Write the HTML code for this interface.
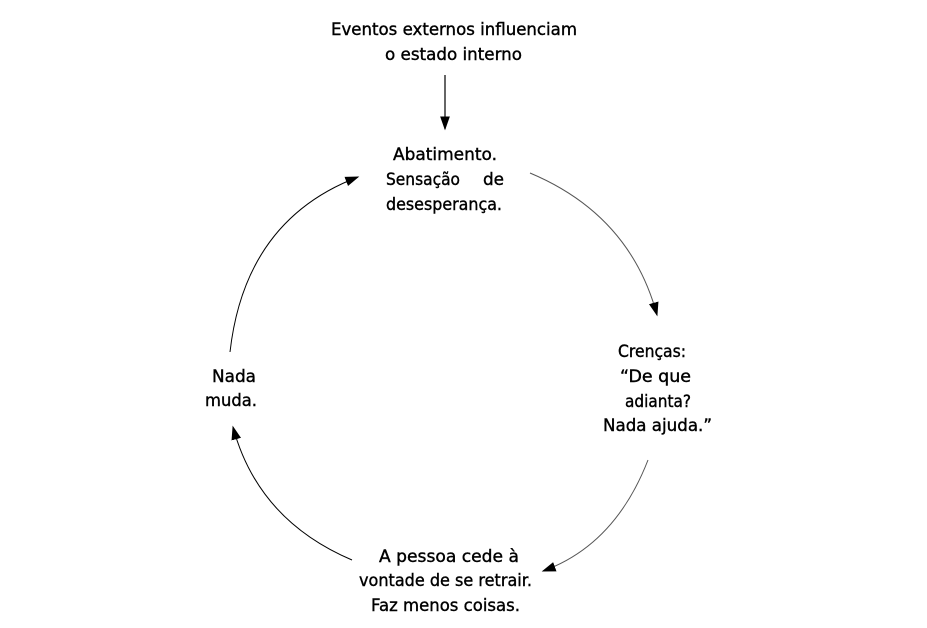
<!DOCTYPE html>
<html><head><style>html,body{margin:0;padding:0;background:#fff}svg{display:block}</style></head>
<body>
<svg width="927" height="628" viewBox="0 0 927 628" xmlns="http://www.w3.org/2000/svg" font-family="DejaVu Sans, Liberation Sans, sans-serif" font-size="17" fill="#000">
<defs>
<marker id="b" viewBox="0 0 10 10" refX="9" refY="5" markerWidth="14" markerHeight="14" markerUnits="userSpaceOnUse" orient="auto"><path d="M0,1.5 L10,5 L0,8.5 z" fill="#000"/></marker>
</defs>
<g stroke="#000" stroke-width="0.4">
<text x="331" y="35" textLength="246" lengthAdjust="spacingAndGlyphs">Eventos externos influenciam</text>
<text x="385" y="60" textLength="137" lengthAdjust="spacingAndGlyphs">o estado interno</text>
<text x="393" y="160" textLength="104" lengthAdjust="spacingAndGlyphs">Abatimento.</text>
<text x="386" y="185" textLength="74" lengthAdjust="spacingAndGlyphs">Sensação</text>
<text x="483" y="185" textLength="21" lengthAdjust="spacingAndGlyphs">de</text>
<text x="386" y="210" textLength="116" lengthAdjust="spacingAndGlyphs">desesperança.</text>
<text x="618" y="357" textLength="68" lengthAdjust="spacingAndGlyphs">Crenças:</text>
<text x="620" y="382" textLength="71" lengthAdjust="spacingAndGlyphs">“De que</text>
<text x="625" y="407" textLength="66" lengthAdjust="spacingAndGlyphs">adianta?</text>
<text x="603" y="431" textLength="109" lengthAdjust="spacingAndGlyphs">Nada ajuda.”</text>
<text x="212" y="382" textLength="44" lengthAdjust="spacingAndGlyphs">Nada</text>
<text x="205" y="406" textLength="52" lengthAdjust="spacingAndGlyphs">muda.</text>
<text x="379" y="562" textLength="140" lengthAdjust="spacingAndGlyphs">A pessoa cede à</text>
<text x="359" y="586" textLength="173" lengthAdjust="spacingAndGlyphs">vontade de se retrair.</text>
<text x="371" y="611" textLength="149" lengthAdjust="spacingAndGlyphs">Faz menos coisas.</text>
</g>
<g fill="none" stroke="#000">
<line x1="445" y1="75" x2="445" y2="129" stroke-width="1.2" marker-end="url(#b)"/>
<path d="M530,173 Q630,215 657,315" stroke="#555" stroke-width="1" marker-end="url(#b)"/>
<path d="M648,460 Q615,545 543,571" stroke="#555" stroke-width="1" marker-end="url(#b)"/>
<path d="M352,560 Q258,520 233,427" stroke-width="1" marker-end="url(#b)"/>
<path d="M230,352 Q245,220 358,177" stroke-width="1" marker-end="url(#b)"/>
</g>
</svg>
</body></html>
